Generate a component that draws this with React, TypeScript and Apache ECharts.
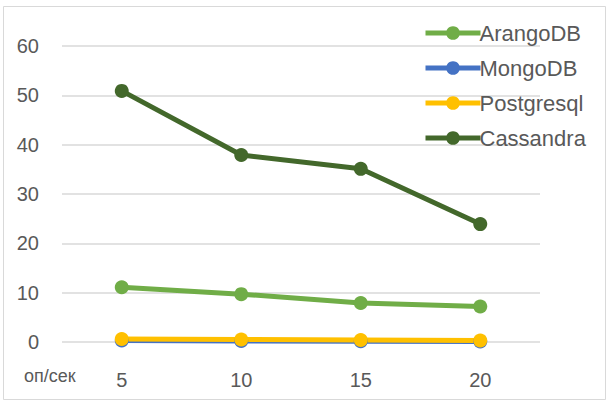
import React, { useEffect, useRef } from "react";
import * as echarts from "echarts";

const categories = ["5", "10", "15", "20"];
const arangoDB = [11.1, 9.7, 7.9, 7.2];
const mongoDB = [0.3, 0.2, 0.15, 0.1];
const postgresql = [0.6, 0.5, 0.4, 0.3];
const cassandra = [50.9, 37.9, 35.1, 23.9];
const seriesNames = ["ArangoDB", "MongoDB", "Postgresql", "Cassandra"];
const seriesColors = ["#70AD47", "#4472C4", "#FFC000", "#43682B"];
const xAxisTitle = "оп/сек";

export default function App() {
  const ref = useRef<HTMLDivElement>(null);
  useEffect(() => {
    if (!ref.current) return;
    const chart = echarts.init(ref.current, null, { renderer: "svg" });
    const font = "Liberation Sans, Arial, sans-serif";
    const data = [arangoDB, mongoDB, postgresql, cassandra];
    chart.setOption({
      animation: false,
      backgroundColor: "#fff",
      textStyle: { fontFamily: font },
      grid: { left: 62, right: 70, top: 46, bottom: 61 },
      legend: {
        orient: "vertical",
        left: 418,
        top: 17,
        itemWidth: 55,
        itemHeight: 17,
        itemGap: 13,
        lineStyle: { width: 5 },
        textStyle: { fontSize: 22, color: "#595959", fontFamily: font, padding: [0, 0, 0, -6] },
        data: seriesNames,
      },
      xAxis: {
        type: "category",
        data: categories,
        boundaryGap: true,
        axisLine: { show: false },
        axisTick: { show: false },
        axisLabel: { fontSize: 20, color: "#595959", margin: 28 },
      },
      yAxis: {
        type: "value",
        min: 0,
        max: 60,
        interval: 10,
        axisLine: { show: false },
        axisTick: { show: false },
        axisLabel: { fontSize: 20, color: "#595959", margin: 23 },
        splitLine: { lineStyle: { color: "#d9d9d9", width: 1.5 } },
      },
      graphic: [
        {
          type: "rect",
          shape: { x: 3.5, y: 6.5, width: 602, height: 393 },
          style: { fill: "none", stroke: "#d9d9d9", lineWidth: 1 },
          silent: true,
        },
        {
          type: "text",
          left: 24,
          top: 367,
          style: { text: xAxisTitle, fontSize: 18, fill: "#595959", fontFamily: font },
        },
      ],
      series: seriesNames.map((name, i) => ({
        name,
        type: "line",
        data: data[i],
        color: seriesColors[i],
        symbol: "circle",
        symbolSize: 14,
        lineStyle: { width: 5, color: seriesColors[i] },
        itemStyle: { color: seriesColors[i] },
      })),
    });
    return () => chart.dispose();
  }, []);
  return (
    <div
      ref={ref}
      style={{ position: "fixed", left: 0, top: 0, width: 610, height: 403 }}
    />
  );
}
